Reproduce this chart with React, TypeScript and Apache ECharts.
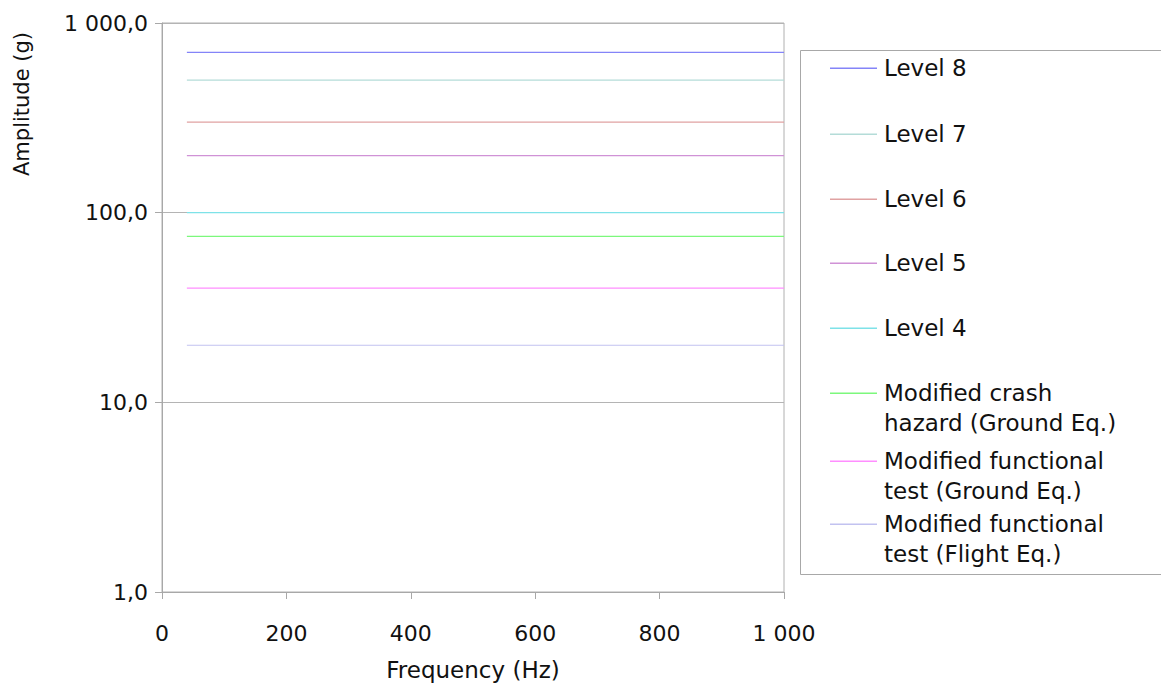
import React, { useEffect, useRef } from "react";
import * as echarts from "echarts";

const seriesNames = [
  "Level 8",
  "Level 7",
  "Level 6",
  "Level 5",
  "Level 4",
  "Modified crash hazard (Ground Eq.)",
  "Modified functional test (Ground Eq.)",
  "Modified functional test (Flight Eq.)",
];
const legendLabels = [
  "Level 8",
  "Level 7",
  "Level 6",
  "Level 5",
  "Level 4",
  "Modified crash\nhazard (Ground Eq.)",
  "Modified functional\ntest (Ground Eq.)",
  "Modified functional\ntest (Flight Eq.)",
];
const amplitudes = [700, 500, 300, 200, 100, 75, 40, 20];
const freqStart = [40, 40, 40, 40, 40, 40, 40, 40];
const freqEnd = [1000, 1000, 1000, 1000, 1000, 1000, 1000, 1000];
const colors = ["#8484f8", "#b4dcd8", "#e0a2a2", "#d092d6", "#7ee2e8", "#7cf87c", "#ff8eff", "#c2c2f0"];
const legendRowY = [68, 134, 199, 263, 328, 393, 461, 524];

const FONT = "DejaVu Sans";

function fmtY(v: number): string {
  const s = v.toFixed(1).replace(".", ",");
  const [i, d] = s.split(",");
  return i.replace(/\B(?=(\d{3})+(?!\d))/g, " ") + "," + d;
}
function fmtX(v: number): string {
  return String(Math.round(v)).replace(/\B(?=(\d{3})+(?!\d))/g, " ");
}

export default function App() {
  const ref = useRef<HTMLDivElement>(null);
  useEffect(() => {
    if (!ref.current) return;
    const chart = echarts.init(ref.current, undefined, { renderer: "svg" });
    const series = seriesNames.map((name, i) => ({
      name,
      type: "line",
      data: [
        [freqStart[i], amplitudes[i]],
        [freqEnd[i], amplitudes[i]],
      ],
      symbol: "none",
      lineStyle: { color: colors[i], width: 1.2 },
      itemStyle: { color: colors[i] },
      z: 3,
    }));
    const legendGraphics: any[] = [
      {
        type: "rect",
        shape: { x: 800.5, y: 50.5, width: 420, height: 524 },
        style: { fill: "#fff", stroke: "#a8a8a8", lineWidth: 1 },
        z: 1,
      },
    ];
    legendLabels.forEach((label, i) => {
      const y = legendRowY[i];
      legendGraphics.push({
        type: "rect",
        shape: { x: 830, y: y - 0.5, width: 47, height: 1.5 },
        style: { fill: colors[i], lineWidth: 0 },
        z: 2,
      });
      legendGraphics.push({
        type: "text",
        x: 884,
        y: y - 15,
        style: {
          text: label,
          fontFamily: FONT,
          fontSize: 23,
          lineHeight: 30,
          fill: "#111",
          align: "left",
          verticalAlign: "top",
        },
        z: 2,
      });
    });
    legendGraphics.push({
      type: "text",
      x: 22,
      y: 104,
      rotation: Math.PI / 2,
      style: {
        text: "Amplitude (g)",
        fontFamily: FONT,
        fontSize: 21,
        fill: "#111",
        align: "center",
        verticalAlign: "middle",
      },
    });
    chart.setOption({
      animation: false,
      backgroundColor: "#fff",
      grid: {
        left: 162,
        right: 1161 - 784,
        top: 23,
        bottom: 688 - 592,
        show: true,
        borderColor: "#b0b0b0",
        borderWidth: 1,
        backgroundColor: "transparent",
      },
      xAxis: {
        type: "value",
        min: 0,
        max: 1000,
        interval: 200,
        name: "Frequency (Hz)",
        nameLocation: "middle",
        nameGap: 66,
        nameTextStyle: { fontFamily: FONT, fontSize: 23, color: "#111", verticalAlign: "top" },
        axisLine: { show: true, lineStyle: { color: "#a8a8a8" } },
        axisTick: { show: true, length: 7, lineStyle: { color: "#a8a8a8" } },
        axisLabel: { formatter: fmtX, fontFamily: FONT, fontSize: 22, color: "#111", margin: 30 },
        splitLine: { show: false },
      },
      yAxis: {
        type: "log",
        logBase: 10,
        min: 1,
        max: 1000,
        axisLine: { show: true, lineStyle: { color: "#a8a8a8" } },
        axisTick: { show: true, length: 7, lineStyle: { color: "#a8a8a8" } },
        minorTick: { show: false },
        axisLabel: { formatter: fmtY, fontFamily: FONT, fontSize: 22, color: "#111", margin: 14 },
        splitLine: { show: true, lineStyle: { color: "#b4b4b4", width: 1 } },
      },
      series,
      graphic: legendGraphics,
    });
    return () => chart.dispose();
  }, []);
  return (
    <div
      ref={ref}
      style={{ position: "absolute", left: 0, top: 0, width: 1161, height: 688 }}
    />
  );
}
